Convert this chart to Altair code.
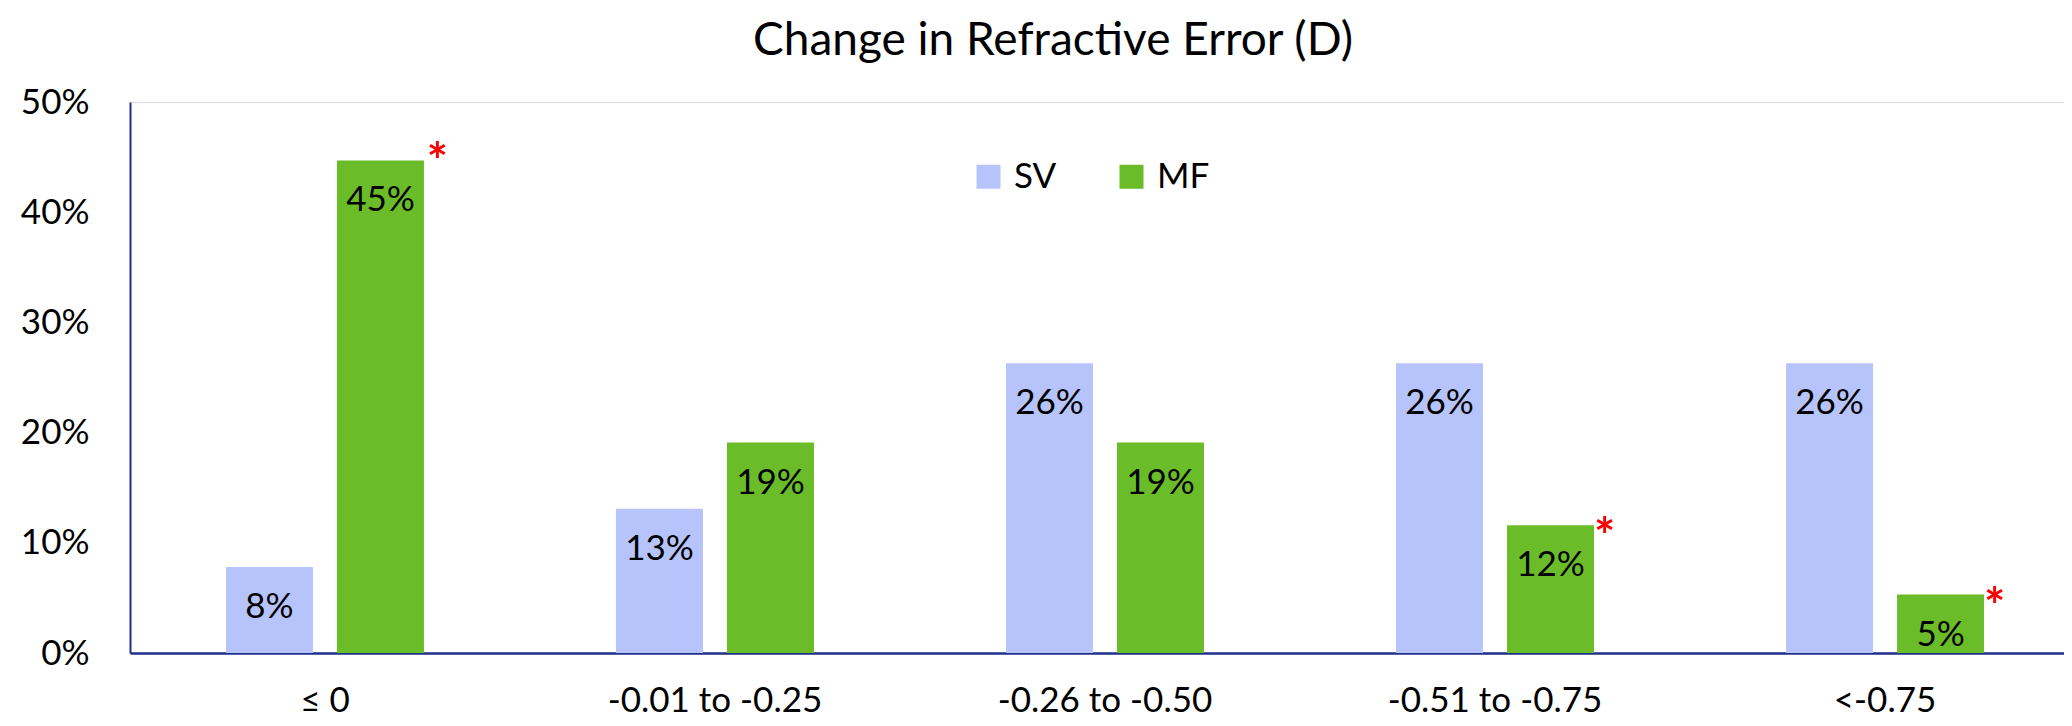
import altair as alt
import pandas as pd

categories = ["≤ 0", "-0.01 to -0.25", "-0.26 to -0.50", "-0.51 to -0.75", "<-0.75"]
groups = ["SV", "MF"]
sv_values = [7.8, 13.1, 26.3, 26.3, 26.3]
mf_values = [44.7, 19.1, 19.1, 11.6, 5.3]
mf_significance = ["*", "", "", "*", "*"]
sv_significance = ["", "", "", "", ""]
y_ticks = [0, 10, 20, 30, 40, 50]

rows = []
for i, c in enumerate(categories):
    rows.append({"cat": c, "grp": "SV", "value": sv_values[i], "sig": sv_significance[i]})
    rows.append({"cat": c, "grp": "MF", "value": mf_values[i], "sig": mf_significance[i]})
df = pd.DataFrame(rows)

FONT = "Lato"
PLOT_W = 1934
PLOT_H = 551

x_enc = alt.X(
    "cat:N",
    sort=categories,
    title=None,
    scale=alt.Scale(paddingInner=0.4923, paddingOuter=0.246, range=[0, 1950]),
    axis=alt.Axis(
        labelAngle=0, ticks=False, labelPadding=30, labelFontSize=35, labelFont=FONT,
        labelColor="#000000", labelLimit=0, domainColor="#1f2f8a", domainWidth=2.5,
    ),
)
xoff_enc = alt.XOffset(
    "grp:N", sort=groups, scale=alt.Scale(paddingInner=0.2162, paddingOuter=0)
)
y_enc = alt.Y(
    "value:Q",
    title=None,
    scale=alt.Scale(domain=[0, 50], nice=False),
    axis=alt.Axis(
        values=y_ticks, labelExpr="datum.value + '%'", grid=False, ticks=False,
        labelPadding=41, labelFontSize=35, labelFont=FONT, labelColor="#000000",
        domainColor="#1f2f8a", domainWidth=2,
    ),
)
color_enc = alt.Color(
    "grp:N",
    sort=groups,
    scale=alt.Scale(domain=groups, range=["#b7c4fc", "#6abd28"]),
    legend=alt.Legend(
        title=None, orient="none", legendX=841, legendY=57, direction="horizontal",
        symbolType="square", symbolSize=576, symbolStrokeWidth=0, symbolOpacity=1,
        labelFontSize=35, labelFont=FONT, labelColor="#000000", labelOffset=8,
        columnPadding=57, padding=0,
    ),
)

base = alt.Chart(df)
x_plain = alt.X("cat:N", sort=categories)
xoff_plain = alt.XOffset("grp:N", sort=groups)

bars = base.mark_bar(opacity=1).encode(x=x_enc, xOffset=xoff_enc, y=y_enc, color=color_enc)

labels = base.transform_calculate(
    lbl="round(datum.value) + '%'"
).mark_text(
    baseline="middle", dy=40, fontSize=35, font=FONT, color="#000000"
).encode(x=x_plain, xOffset=xoff_plain, y="value:Q", text="lbl:N")

star_style = dict(align="center", baseline="middle", fontSize=50, font=FONT,
                  color="#ff0000", fontWeight="bold")

stars_first = base.transform_filter(
    alt.datum.cat == categories[0]
).mark_text(dx=57, dy=4, **star_style).encode(
    x=x_plain, xOffset=xoff_plain, y="value:Q", text="sig:N")

stars_rest = base.transform_filter(
    alt.datum.cat != categories[0]
).mark_text(dx=54, dy=14, **star_style).encode(
    x=x_plain, xOffset=xoff_plain, y="value:Q", text="sig:N")

chart = alt.layer(bars, labels, stars_first, stars_rest).properties(
    width=PLOT_W,
    height=PLOT_H,
    title=alt.TitleParams(
        text="Change in Refractive Error (D)", font=FONT, fontSize=46,
        fontWeight="normal", color="#000000", anchor="middle", dx=-44, offset=20,
    ),
    autosize=alt.AutoSizeParams(type="none"),
    padding={"left": 122, "top": 94, "right": 0, "bottom": 65},
).configure_view(stroke=None).configure(background="#ffffff")

chart.save("out.html", embed_options={"renderer": "svg", "actions": False})
